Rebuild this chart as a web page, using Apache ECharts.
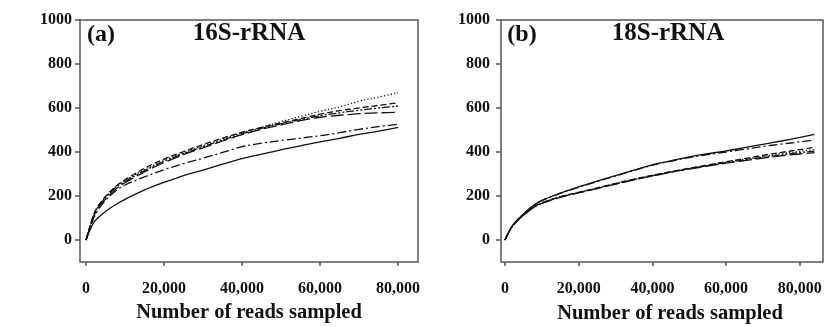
<!DOCTYPE html>
<html>
<head>
<meta charset="utf-8">
<script src="https://cdn.jsdelivr.net/npm/echarts@6/dist/echarts.min.js"></script>
<style>
  html, body { margin: 0; padding: 0; background: #fff; }
  #main { width: 824px; height: 327px; }
</style>
</head>
<body>
<div id="main"></div>
<script>
// reads sampled (x) for each panel
const readsA = [0, 1000, 2000, 3000, 5000, 7500, 10000, 15000, 20000, 25000, 30000, 35000, 40000, 45000, 50000, 55000, 60000, 65000, 70000, 75000, 80000];
const readsB = [0, 1000, 2000, 3000, 5000, 7500, 10000, 15000, 20000, 25000, 30000, 35000, 40000, 45000, 50000, 55000, 60000, 65000, 70000, 75000, 80000, 84000];

// (a) 16S-rRNA
const a16Dotted   = [0, 60, 115, 150, 195, 240, 270, 320, 362, 397, 428, 458, 487, 512, 538, 562, 585, 605, 630, 650, 670];
const a16Dashed   = [0, 62, 118, 153, 198, 242, 274, 326, 368, 402, 434, 463, 490, 512, 532, 552, 572, 588, 600, 612, 624];
const a16DashDot2 = [0, 58, 112, 148, 193, 238, 266, 316, 358, 393, 424, 454, 483, 507, 528, 547, 565, 578, 590, 600, 609];
const a16LongDash = [0, 57, 108, 144, 186, 230, 260, 310, 352, 388, 419, 450, 479, 503, 523, 543, 558, 567, 574, 578, 580];
const a16DashDot  = [0, 55, 100, 135, 180, 222, 250, 287, 320, 347, 372, 398, 424, 440, 452, 463, 474, 488, 503, 515, 526];
const a16Solid    = [0, 45, 80, 100, 130, 160, 185, 228, 262, 293, 318, 345, 370, 390, 410, 428, 446, 462, 480, 495, 512];

// (b) 18S-rRNA
const b18Solid    = [0, 35, 65, 85, 118, 155, 180, 213, 242, 268, 293, 318, 342, 360, 378, 392, 405, 420, 435, 450, 466, 480];
const b18DashDot  = [0, 35, 65, 85, 118, 154, 179, 212, 240, 266, 291, 316, 340, 358, 375, 388, 400, 412, 425, 436, 446, 455];
const b18Dashed   = [0, 35, 63, 83, 114, 148, 169, 197, 217, 237, 257, 277, 294, 311, 326, 341, 356, 370, 385, 398, 411, 421];
const b18Dotted   = [0, 34, 62, 82, 113, 147, 168, 196, 216, 236, 256, 275, 293, 310, 325, 340, 354, 367, 380, 392, 403, 411];
const b18DashDot2 = [0, 34, 62, 82, 112, 146, 167, 195, 215, 235, 255, 274, 292, 309, 324, 338, 352, 364, 376, 387, 397, 404];
const b18LongDash = [0, 34, 61, 81, 112, 145, 166, 194, 214, 234, 254, 273, 291, 308, 322, 336, 349, 361, 372, 382, 391, 397];

const xTicks = [0, 20000, 40000, 60000, 80000];
const yTicks = [0, 200, 400, 600, 800, 1000];

const FONT = '"Liberation Serif", "DejaVu Serif", serif';
const INK = '#111';

const dashStyles = {
  solid: 'solid',
  dotted: [1.2, 2.2],
  dashed: [6, 3],
  dashDot: [9, 3, 2, 3],
  dashDot2: [8, 2, 2, 2, 2, 2],
  longDash: [13, 4]
};

function line(xi, yi, xs, ys, style) {
  return {
    type: 'line',
    xAxisIndex: xi,
    yAxisIndex: yi,
    data: xs.map((x, i) => [x, ys[i]]),
    showSymbol: false,
    smooth: 0.35,
    silent: true,
    lineStyle: { color: INK, width: 1.3, type: dashStyles[style] }
  };
}

function xAxis(grid, min, max) {
  return {
    type: 'value',
    gridIndex: grid,
    min: min,
    max: max,
    splitLine: { show: false },
    axisLine: { show: false, onZero: false },
    axisTick: { show: true, length: 4, customValues: xTicks, lineStyle: { color: '#555', width: 1.5 } },
    axisLabel: {
      customValues: xTicks,
      margin: 19,
      color: INK,
      fontFamily: FONT,
      fontWeight: 'bold',
      fontSize: 16,
      formatter: v => v.toLocaleString('en-US')
    }
  };
}

function yAxis(grid, margin) {
  return {
    type: 'value',
    gridIndex: grid,
    min: -100,
    max: 1000,
    splitLine: { show: false },
    axisLine: { show: false, onZero: false },
    axisTick: { show: true, length: 5, customValues: yTicks, lineStyle: { color: '#555', width: 1.5 } },
    axisLabel: {
      customValues: yTicks,
      margin: margin,
      color: INK,
      fontFamily: FONT,
      fontWeight: 'bold',
      fontSize: 16,
      formatter: v => String(v)
    }
  };
}

function txt(x, y, s, size, extra) {
  return Object.assign({
    type: 'text',
    x: x,
    y: y,
    style: {
      text: s,
      fill: INK,
      font: 'bold ' + size + 'px ' + FONT,
      textAlign: 'center',
      textVerticalAlign: 'middle'
    },
    silent: true
  }, extra || {});
}

const option = {
  backgroundColor: '#fff',
  animation: false,
  grid: [
    { left: 80, top: 20, width: 338, height: 242, show: true, borderColor: '#555', borderWidth: 1.5, backgroundColor: 'transparent', outerBoundsMode: 'none' },
    { left: 501, top: 20, width: 322, height: 242, show: true, borderColor: '#555', borderWidth: 1.5, backgroundColor: 'transparent', outerBoundsMode: 'none' }
  ],
  xAxis: [xAxis(0, -1550, 85100), xAxis(1, -1085, 86300)],
  yAxis: [yAxis(0, 8), yAxis(1, 11)],
  series: [
    line(0, 0, readsA, a16Dotted, 'dotted'),
    line(0, 0, readsA, a16Dashed, 'dashed'),
    line(0, 0, readsA, a16DashDot2, 'dashDot2'),
    line(0, 0, readsA, a16LongDash, 'longDash'),
    line(0, 0, readsA, a16DashDot, 'dashDot'),
    line(0, 0, readsA, a16Solid, 'solid'),
    line(1, 1, readsB, b18Solid, 'solid'),
    line(1, 1, readsB, b18DashDot, 'dashDot'),
    line(1, 1, readsB, b18Dashed, 'dashed'),
    line(1, 1, readsB, b18Dotted, 'dotted'),
    line(1, 1, readsB, b18DashDot2, 'dashDot2'),
    line(1, 1, readsB, b18LongDash, 'longDash')
  ],
  graphic: [
    txt(101, 35, '(a)', 24),
    txt(249, 34, '16S-rRNA', 25),
    txt(522, 35, '(b)', 24),
    txt(668, 34, '18S-rRNA', 25),
    txt(26, 128, 'OTUs', 24, { rotation: Math.PI / 2, originX: 26, originY: 128 }),
    txt(447, 129, 'OTUs', 24, { rotation: Math.PI / 2, originX: 447, originY: 129 }),
    txt(249, 313, 'Number of reads sampled', 20.5),
    txt(670, 314, 'Number of reads sampled', 20.5)
  ]
};

const chart = echarts.init(document.getElementById('main'), null, { renderer: 'canvas' });
chart.setOption(option);
</script>
</body>
</html>
